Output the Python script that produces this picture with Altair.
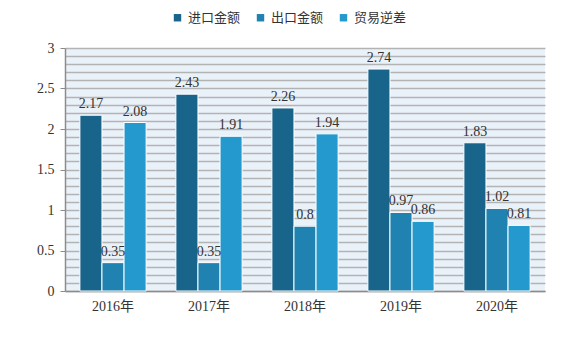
import altair as alt
import pandas as pd

years = ["2016年", "2017年", "2018年", "2019年", "2020年"]
series_names = ["进口金额", "出口金额", "贸易逆差"]
imports = [2.17, 2.43, 2.26, 2.74, 1.83]
exports = [0.35, 0.35, 0.8, 0.97, 1.02]
deficit = [2.08, 1.91, 1.94, 0.86, 0.81]
colors = ["#18648a", "#1f82b1", "#2499cd"]
y_ticks = [round(i * 0.1, 1) for i in range(31)]

rows = []
for i, yr in enumerate(years):
    for s, vals in zip(series_names, [imports, exports, deficit]):
        rows.append({"year": yr, "series": s, "value": vals[i]})
df = pd.DataFrame(rows)

num_font = "Liberation Serif, Noto Sans CJK SC"
cjk_font = "Noto Sans CJK SC"
major = "abs(datum.value*2 - round(datum.value*2)) < 0.001"

x = alt.X(
    "year:N", sort=years, title=None,
    scale=alt.Scale(paddingInner=0.31, paddingOuter=0.155),
    axis=alt.Axis(labelAngle=0, ticks=False, domainColor="#8c8c8c", domainWidth=1.5,
                  labelFont=num_font, labelFontSize=14, labelColor="#333333",
                  labelPadding=8),
)
xo = alt.XOffset("series:N", sort=series_names, scale=alt.Scale(paddingInner=0))
y = alt.Y(
    "value:Q", title=None,
    scale=alt.Scale(domain=[0, 3], nice=False),
    axis=alt.Axis(values=y_ticks, grid=True, gridColor="#b3b3b3", gridWidth=1.5,
                  labelExpr=f"{major} ? format(datum.value, '~g') : ''",
                  labelOverlap=False, labelFont=num_font, labelFontSize=14,
                  labelColor="#333333", labelPadding=6,
                  tickOpacity={"condition": {"test": major, "value": 1}, "value": 0},
                  tickColor="#8c8c8c", tickSize=5, domainColor="#8c8c8c", domainWidth=1.5),
)

bars = alt.Chart(df).mark_bar(stroke="white", strokeWidth=1).encode(
    x=x, xOffset=xo, y=y,
    color=alt.Color(
        "series:N", sort=series_names,
        scale=alt.Scale(domain=series_names, range=colors),
        legend=alt.Legend(title=None, orient="none", legendX=106, legendY=-37,
                          direction="horizontal", symbolType="square", symbolSize=55,
                          symbolStrokeWidth=0, labelFont=cjk_font, labelFontSize=13,
                          labelColor="#333333", columnPadding=13, labelOffset=4),
    ),
)

labels = alt.Chart(df).mark_text(
    baseline="bottom", dy=-4, font=num_font, fontSize=14, color="#333333"
).encode(x=x, xOffset=xo, y=y, text=alt.Text("value:Q", format="~g"))

chart = alt.layer(bars, labels).properties(
    width=480, height=243,
    autosize=alt.AutoSizeParams(type="none"),
    padding={"left": 65, "top": 48, "right": 20, "bottom": 46},
    background="white",
).configure_view(fill="#eaf2f9", stroke=None)

chart.save("out.html", embed_options={"renderer": "svg", "actions": False})
